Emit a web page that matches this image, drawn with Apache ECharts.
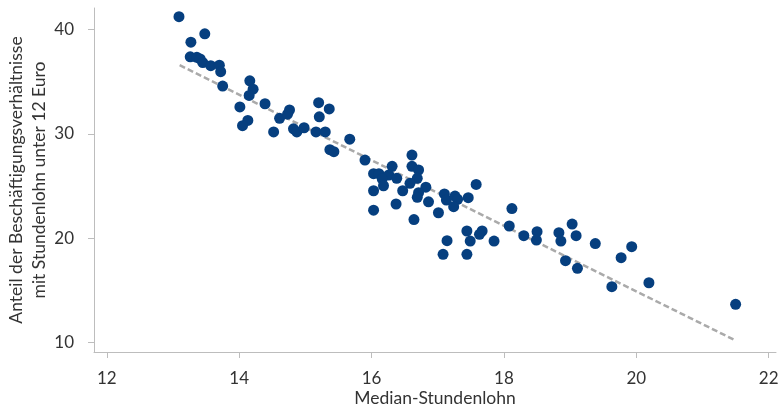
<!DOCTYPE html>
<html>
<head>
<meta charset="utf-8">
<script src="https://cdn.jsdelivr.net/npm/echarts@6/dist/echarts.min.js"></script>
<style>
  html, body { margin: 0; padding: 0; background: #ffffff; }
  #chart { width: 782px; height: 407px; }
</style>
</head>
<body>
<div id="chart"></div>
<script>
// Median hourly wage (x) and share of jobs below 12 Euro (y)
const medianWage = [
  13.09, 13.48, 13.27, 13.26, 13.36, 13.41, 13.45, 13.57, 13.70, 13.72,
  13.75, 14.16, 14.21, 14.15, 14.01, 14.13, 14.05, 14.39, 14.52, 14.61,
  14.76, 14.73, 14.82, 14.87, 14.98, 15.20, 15.36, 15.21, 15.16, 15.30,
  15.67, 15.37, 15.43, 15.90, 16.61, 16.31, 16.61, 16.71, 16.03, 16.11,
  16.26, 16.38, 16.16, 16.69, 16.18, 16.58, 16.82, 16.03, 16.47, 16.71,
  16.69, 16.37, 16.86, 16.03, 16.64, 17.01, 17.10, 17.13, 17.26, 17.30,
  17.24, 17.46, 17.58, 18.12, 18.08, 18.30, 18.50, 18.49, 18.83, 17.44,
  17.67, 17.63, 17.49, 17.14, 17.85, 17.08, 17.44, 19.03, 19.09, 18.86,
  18.93, 19.11, 19.38, 19.77, 19.93, 19.63, 20.19, 21.50
];
const shareBelow12 = [
  41.25, 39.6, 38.8, 37.4, 37.35, 37.2, 36.85, 36.55, 36.6, 35.97,
  34.6, 35.1, 34.3, 33.7, 32.6, 31.3, 30.8, 32.9, 30.2, 31.5,
  32.3, 31.9, 30.5, 30.2, 30.6, 33.0, 32.4, 31.65, 30.2, 30.2,
  29.5, 28.5, 28.3, 27.5, 27.98, 26.9, 26.9, 26.55, 26.2, 26.2,
  26.07, 25.75, 25.7, 25.75, 25.04, 25.27, 24.9, 24.56, 24.56, 24.37,
  23.93, 23.29, 23.5, 22.7, 21.8, 22.45, 24.25, 23.67, 24.05, 23.74,
  23.03, 23.9, 25.17, 22.85, 21.18, 20.25, 20.63, 19.83, 20.54, 20.7,
  20.7, 20.38, 19.74, 19.77, 19.74, 18.47, 18.47, 21.37, 20.25, 19.74,
  17.85, 17.12, 19.5, 18.14, 19.2, 15.36, 15.74, 13.67
];
// Trend line end points
const trendX = [13.10, 21.50];
const trendY = [36.6, 10.2];
// Tick labels
const xTicks = [12, 14, 16, 18, 20, 22];
const yTicks = [10, 20, 30, 40];

const points = medianWage.map((x, i) => [x, shareBelow12[i]]);
const trend = trendX.map((x, i) => [x, trendY[i]]);

const FONT = 'Lato, "Noto Sans", sans-serif';
const AXIS_COLOR = '#bdbdbd';
const TEXT_COLOR = '#333333';

const chart = echarts.init(document.getElementById('chart'), null, { renderer: 'canvas' });
chart.setOption({
  animation: false,
  backgroundColor: '#ffffff',
  grid: { left: 94, right: 6, top: 8, bottom: 55, containLabel: false, outerBoundsMode: 'none' },
  xAxis: {
    type: 'value',
    min: 11.806,
    max: 22.11,
    splitLine: { show: false },
    axisLine: { show: true, onZero: false, lineStyle: { color: AXIS_COLOR, width: 1 } },
    axisTick: { show: true, length: 6, customValues: xTicks, lineStyle: { color: AXIS_COLOR } },
    axisLabel: { customValues: xTicks, fontSize: 17, color: TEXT_COLOR, fontFamily: FONT, margin: 18 },
    name: 'Median-Stundenlohn',
    nameLocation: 'middle',
    nameGap: 37,
    nameMoveOverlap: false,
    nameTextStyle: { fontSize: 17.5, color: TEXT_COLOR, fontFamily: FONT }
  },
  yAxis: {
    type: 'value',
    min: 9.1,
    max: 42.08,
    splitLine: { show: false },
    axisLine: { show: true, onZero: false, lineStyle: { color: AXIS_COLOR, width: 1 } },
    axisTick: { show: true, length: 6, customValues: yTicks, lineStyle: { color: AXIS_COLOR } },
    axisLabel: { customValues: yTicks, fontSize: 17, color: TEXT_COLOR, fontFamily: FONT, margin: 20 },
    name: 'Anteil der Beschäftigungsverhältnisse\nmit Stundenlohn unter 12 Euro',
    nameLocation: 'middle',
    nameRotate: 90,
    nameGap: 43,
    nameMoveOverlap: false,
    nameTextStyle: { fontSize: 17.5, color: TEXT_COLOR, fontFamily: FONT, lineHeight: 23, align: 'center' }
  },
  series: [
    {
      type: 'line',
      data: trend,
      symbol: 'none',
      z: 1,
      lineStyle: { color: '#aaaaaa', width: 2.5, type: [6, 3] },
      silent: true
    },
    {
      type: 'scatter',
      data: points,
      symbol: 'circle',
      symbolSize: 11,
      z: 3,
      itemStyle: { color: '#063f7f', opacity: 1 }
    }
  ]
});
</script>
</body>
</html>
